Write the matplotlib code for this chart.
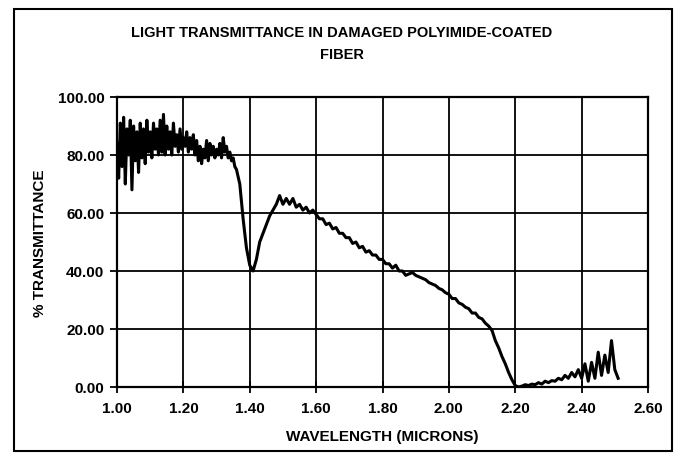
import numpy as np
import matplotlib.pyplot as plt
from matplotlib.patches import Rectangle

plt.rcParams['font.family'] = ['Liberation Sans', 'DejaVu Sans']
plt.rcParams['font.weight'] = 'bold'

# noisy part, sampled every 0.005 micron
wl_a = np.round(np.arange(1.000, 1.3601, 0.005), 3)
tr_a = [84, 72, 91, 76, 93, 70, 89, 80, 92, 68,
        90, 78, 88, 74, 91, 79, 89, 77, 92, 81,
        88, 79, 91, 82, 89, 80, 92, 81, 94, 80,
        90, 82, 88, 80, 91, 83, 87, 81, 89, 82,
        86, 83, 88, 81, 86, 82, 87, 80, 85, 78,
        83, 77, 82, 79, 85, 78, 84, 80, 83, 79,
        82, 80, 84, 79, 86, 81, 83, 79, 81, 78,
        79, 76, 75]

# rest of the scan, every 0.01 micron
wl_b = np.round(np.arange(1.37, 2.5101, 0.01), 2)
tr_b = [70, 58, 48, 42, 40, 44, 50, 53, 56, 59,
        61, 63, 66, 63, 65, 63, 65, 62, 63, 61,
        62, 60, 61, 59.5, 58, 58, 56, 56.5, 54.5, 55,
        53, 53, 51.5, 51.5, 49.5, 50, 48, 48.5, 46.5, 47,
        45.5, 45.5, 44, 44, 42.5, 42.5, 41, 42, 40, 40,
        38.5, 39, 39.5, 38.5, 38, 37.5, 37, 36, 35.5, 35,
        34, 33.5, 32.5, 32, 30.5, 30.5, 29, 28.5, 27.5, 27,
        25.5, 25.5, 24, 23.5, 22, 21, 19.5, 16, 13.5, 10.5,
        8, 5, 2.5, 0.5, 0, 0.3, 0.8, 0.5, 1, 0.8,
        1.5, 1, 2, 1.5, 2.2, 2, 3, 2.5, 4, 3,
        5, 3.5, 6, 3, 8, 2, 8.5, 3, 12, 4,
        11, 5, 16, 6, 3]

wavelength = np.concatenate([wl_a, wl_b])
transmittance = np.array(tr_a + tr_b, dtype=float)

xticks = [1.0, 1.2, 1.4, 1.6, 1.8, 2.0, 2.2, 2.4, 2.6]
yticks = [0, 20, 40, 60, 80, 100]

fig = plt.figure(figsize=(6.83, 4.64), dpi=100)
ax = fig.add_axes([117/683, 1-388/464, (648-117)/683, (388-98)/464])

ax.plot(wavelength, transmittance, color='black', lw=2.2)

ax.set_xlim(1.0, 2.6)
ax.set_ylim(0, 100)
ax.set_xticks(xticks)
ax.set_yticks(yticks)
ax.set_xticklabels(["%.2f" % t for t in xticks])
ax.set_yticklabels(["%.2f" % t for t in yticks])
ax.grid(True, color='black', lw=1.3)
ax.tick_params(axis='x', direction='inout', length=8, width=1.3, labelsize=11, pad=6)
ax.tick_params(axis='y', direction='out', length=5, width=1.3, labelsize=11, pad=4)
for s in ax.spines.values():
    s.set_linewidth(1.6)

ax.set_xlabel("WAVELENGTH (MICRONS)", fontsize=11, fontweight='bold', labelpad=10)
ax.set_ylabel("% TRANSMITTANCE", fontsize=11, fontweight='bold', labelpad=8)

fig.text(0.5, 1-33/464, "LIGHT TRANSMITTANCE IN DAMAGED POLYIMIDE-COATED",
         ha='center', va='center', fontsize=10.5, fontweight='bold')
fig.text(0.5, 1-55/464, "FIBER", ha='center', va='center', fontsize=10.5, fontweight='bold')

fig.patches.append(Rectangle((14/683, 1-452/464), (672-14)/683, (452-10)/464,
                             transform=fig.transFigure, fill=False, ec='black', lw=1.5))

fig.savefig("out.png", dpi=100)
